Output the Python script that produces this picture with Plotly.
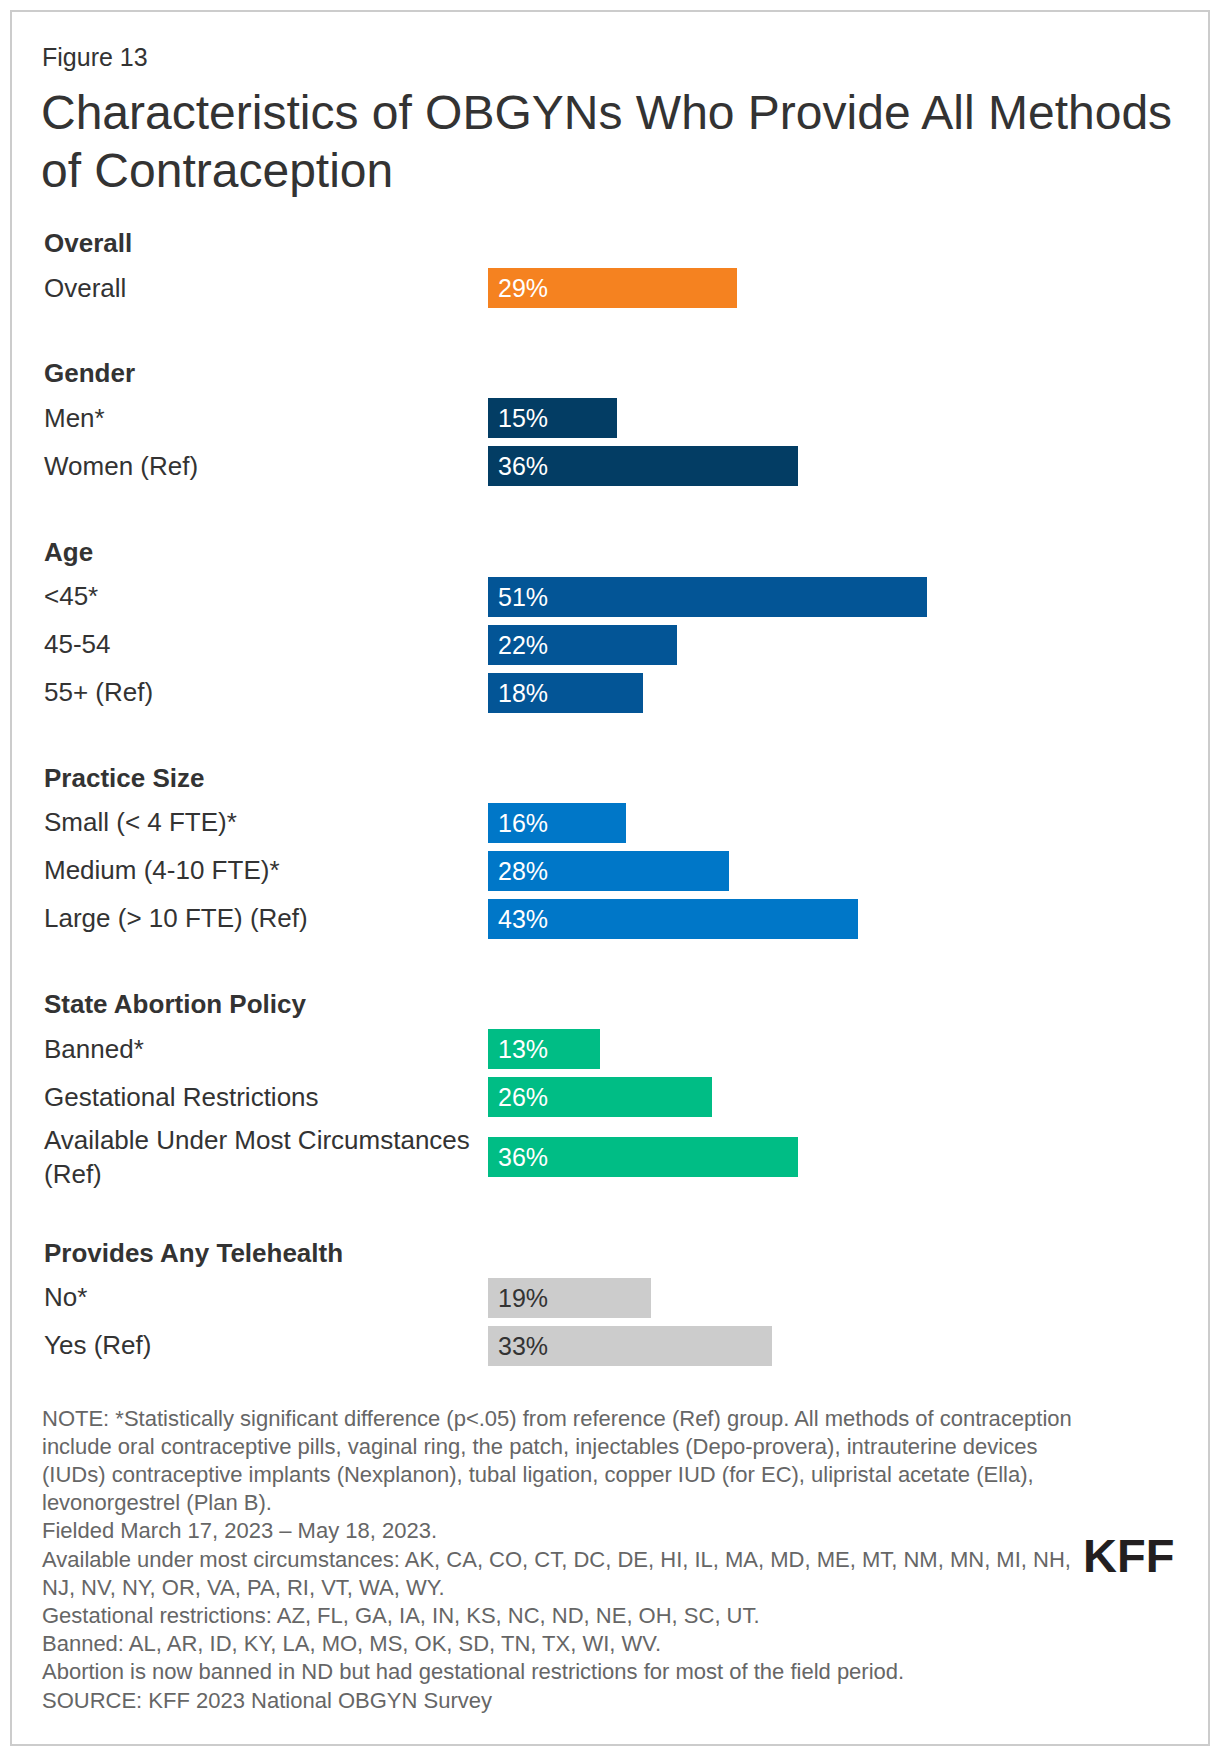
import plotly.graph_objects as go

# ---------------- data ----------------
group_names = ["Overall", "Gender", "Age", "Practice Size",
               "State Abortion Policy", "Provides Any Telehealth"]

overall_labels = ["Overall"]
overall_values = [29]

gender_labels = ["Men*", "Women (Ref)"]
gender_values = [15, 36]

age_labels = ["<45*", "45-54", "55+ (Ref)"]
age_values = [51, 22, 18]

practice_labels = ["Small (< 4 FTE)*", "Medium (4-10 FTE)*", "Large (> 10 FTE) (Ref)"]
practice_values = [16, 28, 43]

policy_labels = ["Banned*", "Gestational Restrictions",
                 "Available Under Most Circumstances<br>(Ref)"]
policy_values = [13, 26, 36]

telehealth_labels = ["No*", "Yes (Ref)"]
telehealth_values = [19, 33]

group_colors = ["#F58220", "#033D64", "#035596", "#0077C8", "#00BD85", "#CCCCCC"]
value_text_colors = ["#FFFFFF"] * 5 + ["#333333"]

note_lines = [
    "NOTE: *Statistically significant difference (p<.05) from reference (Ref) group. All methods of contraception",
    "include oral contraceptive pills, vaginal ring, the patch, injectables (Depo-provera), intrauterine devices",
    "(IUDs) contraceptive implants (Nexplanon), tubal ligation, copper IUD (for EC), ulipristal acetate (Ella),",
    "levonorgestrel (Plan B).",
    "Fielded March 17, 2023 \u2013 May 18, 2023.",
    "Available under most circumstances: AK, CA, CO, CT, DC, DE, HI, IL, MA, MD, ME, MT, NM, MN, MI, NH,",
    "NJ, NV, NY, OR, VA, PA, RI, VT, WA, WY.",
    "Gestational restrictions: AZ, FL, GA, IA, IN, KS, NC, ND, NE, OH, SC, UT.",
    "Banned: AL, AR, ID, KY, LA, MO, MS, OK, SD, TN, TX, WI, WV.",
    "Abortion is now banned in ND but had gestational restrictions for most of the field period.",
    "SOURCE: KFF 2023 National OBGYN Survey",
]

groups = [
    (overall_labels, overall_values),
    (gender_labels, gender_values),
    (age_labels, age_values),
    (practice_labels, practice_values),
    (policy_labels, policy_values),
    (telehealth_labels, telehealth_values),
]

# ---------------- layout constants (pixels) ----------------
W, H = 1220, 1758
FONT = "Liberation Sans, Arial, Helvetica, sans-serif"
TEXT = "#333333"
LABEL_X = 42 / W
BAR_X0 = 488
PX_PER_PCT = 8.6
FIRST_HEADER = 243.5
HEADER_TO_TOP = 20.5
ROW_H = 48
ROW_H2 = 70
GAP = 61.8
BAR_W = 40
LABEL_DY = -0.5

fig = go.Figure()
annotations = []

cursor_header = FIRST_HEADER
for gi, (name, (labels, values)) in enumerate(zip(group_names, groups)):
    annotations.append(dict(text="<b>%s</b>" % name, xref="paper", yref="y",
                            x=LABEL_X, y=cursor_header + LABEL_DY, xanchor="left", yanchor="middle",
                            showarrow=False, font=dict(family=FONT, size=26, color=TEXT)))
    top = cursor_header + HEADER_TO_TOP
    ys = []
    for lab in labels:
        if "<br>" in lab:
            c = top + 36
            top += ROW_H2
        else:
            c = top + ROW_H / 2
            top += ROW_H
        ys.append(c)
        annotations.append(dict(text=lab, xref="paper", yref="y", x=LABEL_X, y=c + LABEL_DY,
                                xanchor="left", yanchor="middle", align="left",
                                showarrow=False,
                                font=dict(family=FONT, size=26, color=TEXT)))
    fig.add_trace(go.Bar(x=values, y=ys, orientation="h", width=BAR_W,
                         marker=dict(color=group_colors[gi], line=dict(width=0)),
                         hoverinfo="skip", showlegend=False))
    for v, c in zip(values, ys):
        annotations.append(dict(text="%d%%" % v, xref="x", yref="y", x=0, y=c,
                                xanchor="left", yanchor="middle", xshift=8,
                                showarrow=False,
                                font=dict(family=FONT, size=25, color=value_text_colors[gi])))
    cursor_header = top + GAP

# title block
annotations.append(dict(text="Figure 13", xref="paper", yref="y", x=40 / W, y=57,
                        xanchor="left", yanchor="middle", showarrow=False,
                        font=dict(family=FONT, size=25, color=TEXT)))
annotations.append(dict(text="Characteristics of OBGYNs Who Provide All Methods",
                        xref="paper", yref="y", x=39 / W, y=112,
                        xanchor="left", yanchor="middle", showarrow=False,
                        font=dict(family=FONT, size=48, color=TEXT)))
annotations.append(dict(text="of Contraception",
                        xref="paper", yref="y", x=39 / W, y=170,
                        xanchor="left", yanchor="middle", showarrow=False,
                        font=dict(family=FONT, size=48, color=TEXT)))

# notes
for i, line in enumerate(note_lines):
    annotations.append(dict(text=line, xref="paper", yref="y", x=40 / W, y=1418 + i * 28.2,
                            xanchor="left", yanchor="middle", showarrow=False,
                            font=dict(family=FONT, size=22, color="#666666")))

# logo
annotations.append(dict(text="<b>KFF</b>", xref="paper", yref="y", x=1176 / W, y=1555,
                        xanchor="right", yanchor="middle", showarrow=False,
                        font=dict(family=FONT, size=47, color="#231F20")))

fig.update_layout(
    width=W, height=H,
    margin=dict(l=0, r=0, t=0, b=0),
    paper_bgcolor="white", plot_bgcolor="white",
    xaxis=dict(domain=[BAR_X0 / W, 1], range=[0, (W - BAR_X0) / PX_PER_PCT],
               visible=False, fixedrange=True),
    yaxis=dict(domain=[0, 1], range=[H, 0], visible=False, fixedrange=True),
    annotations=annotations,
    shapes=[dict(type="rect", xref="paper", yref="y", x0=11 / W, x1=1209 / W,
                 y0=11, y1=1745, line=dict(color="#CCCCCC", width=2),
                 fillcolor="rgba(0,0,0,0)", layer="below")],
    bargap=0,
)

fig.write_html("out.html")
